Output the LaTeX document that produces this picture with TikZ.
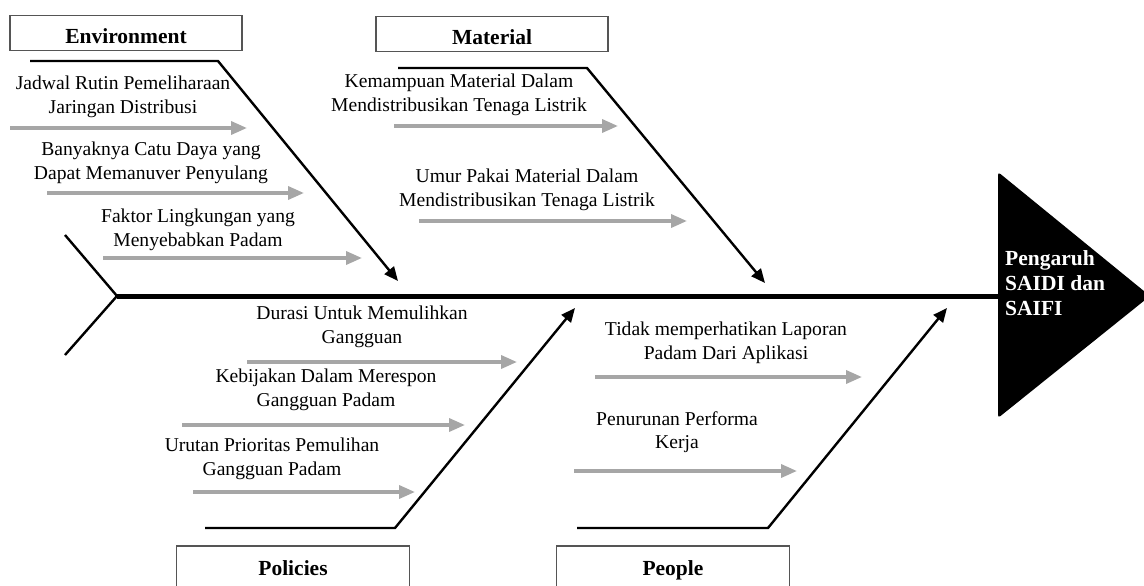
\documentclass[tikz,border=0pt]{standalone}
\usepackage{fontspec}
\setmainfont{Liberation Serif}
\usepackage{tikz}
\usetikzlibrary{arrows.meta}
\definecolor{subgray}{RGB}{166, 166, 166}
\definecolor{boxline}{RGB}{85, 85, 85}
\tikzstyle{cat} = [draw=boxline, line width=1.2pt, fill=white, minimum width=232pt, minimum height=35pt, inner sep=0pt, text height=21pt, text depth=0pt, font=\fontsize{21.5}{24}\selectfont\bfseries]
\tikzstyle{catopen} = [draw=none, minimum width=232pt, minimum height=44pt, inner sep=0pt, text height=14pt, text depth=0pt, font=\fontsize{21.5}{24}\selectfont\bfseries]
\tikzstyle{cause} = [align=center, inner sep=0pt, font=\fontsize{19.6}{23.5}\selectfont]
\tikzstyle{effect} = [align=left, inner sep=0pt, text=white, font=\fontsize{21.5}{25}\selectfont\bfseries]
\tikzstyle{bone} = [draw, line width=2.4pt, line join=miter, -{Triangle[length=14pt,width=12pt]}]
\tikzstyle{sub} = [draw=subgray, line width=3.5pt, -{Triangle[length=16pt,width=13pt]}]
\tikzstyle{spine} = [draw, line width=5pt]

\begin{document}
\begin{tikzpicture}[x=1pt, y=-1pt]
\useasboundingbox (0,0) rectangle (1144,586);
\clip (0,0) rectangle (1144,586);

% head and spine =============================
\fill[rounded corners=3pt] (998,172) -- (1150,296) -- (998,418) -- cycle;
\node[effect, anchor=west] (effect) at (1005,283) {Pengaruh\\SAIDI dan\\SAIFI};
\coordinate (head) at (998,296);
\coordinate (tail) at (117,296);
\coordinate (tailup) at (65,235);
\coordinate (taildown) at (65,355);

% categories
\node[cat] (env) at (126,33) {Environment};
\node[cat] (mat) at (492,34) {Material};
\node[catopen, anchor=north] (pol) at (293,546) {Policies};
\node[catopen, anchor=north] (peo) at (673,546) {People};
\draw[boxline, line width=1.2pt] (pol.south west) |- (pol.north east) -- (pol.south east);
\draw[boxline, line width=1.2pt] (peo.south west) |- (peo.north east) -- (peo.south east);

% bone corners
\coordinate (env0) at (30,61);   \coordinate (env1) at (218,61);  \coordinate (env2) at (398,281);
\coordinate (mat0) at (398,68);  \coordinate (mat1) at (587,68);  \coordinate (mat2) at (765,283);
\coordinate (pol0) at (205,528); \coordinate (pol1) at (395,528); \coordinate (pol2) at (575,308);
\coordinate (peo0) at (577,528); \coordinate (peo1) at (768,528); \coordinate (peo2) at (947,308);

% causes
\node[cause] (e1) at (123,97) {Jadwal Rutin Pemeliharaan\\Jaringan Distribusi};
\node[cause] (e2) at (151,163) {Banyaknya Catu Daya yang\\Dapat Memanuver Penyulang};
\node[cause] (e3) at (198,230) {Faktor Lingkungan yang\\Menyebabkan Padam};
\node[cause] (m1) at (459,95) {Kemampuan Material Dalam\\Mendistribusikan Tenaga Listrik};
\node[cause] (m2) at (527,190) {Umur Pakai Material Dalam\\Mendistribusikan Tenaga Listrik};
\node[cause] (p1) at (362,327) {Durasi Untuk Memulihkan\\Gangguan};
\node[cause] (p2) at (326,390) {Kebijakan Dalam Merespon\\Gangguan Padam};
\node[cause] (p3) at (272,459) {Urutan Prioritas Pemulihan\\Gangguan Padam};
\node[cause] (q1) at (726,343) {Tidak memperhatikan Laporan\\Padam Dari Aplikasi};
\node[cause] (q2) at (677,432) {Penurunan Performa\\Kerja};

\coordinate (e1a) at (10,128);  \coordinate (e1b) at (247,128);
\coordinate (e2a) at (47,193);  \coordinate (e2b) at (304,193);
\coordinate (e3a) at (103,258); \coordinate (e3b) at (362,258);
\coordinate (m1a) at (394,126); \coordinate (m1b) at (618,126);
\coordinate (m2a) at (419,221); \coordinate (m2b) at (687,221);
\coordinate (p1a) at (247,362); \coordinate (p1b) at (517,362);
\coordinate (p2a) at (182,425); \coordinate (p2b) at (465,425);
\coordinate (p3a) at (193,492); \coordinate (p3b) at (415,492);
\coordinate (q1a) at (595,377); \coordinate (q1b) at (862,377);
\coordinate (q2a) at (574,471); \coordinate (q2b) at (797,471);

% edges
\path[spine] (tail) -- (head);
\draw[line width=2.4pt, line join=miter] (tailup) -- (tail) -- (taildown);
\path[bone] (env0) -- (env1) -- (env2);
\path[bone] (mat0) -- (mat1) -- (mat2);
\path[bone] (pol0) -- (pol1) -- (pol2);
\path[bone] (peo0) -- (peo1) -- (peo2);

% % sub causes
\path[sub] (e1a) -- (e1b);
\path[sub] (e2a) -- (e2b);
\path[sub] (e3a) -- (e3b);
\path[sub] (m1a) -- (m1b);
\path[sub] (m2a) -- (m2b);
\path[sub] (p1a) -- (p1b);
\path[sub] (p2a) -- (p2b);
\path[sub] (p3a) -- (p3b);
\path[sub] (q1a) -- (q1b);
\path[sub] (q2a) -- (q2b);

\end{tikzpicture}
\end{document}
